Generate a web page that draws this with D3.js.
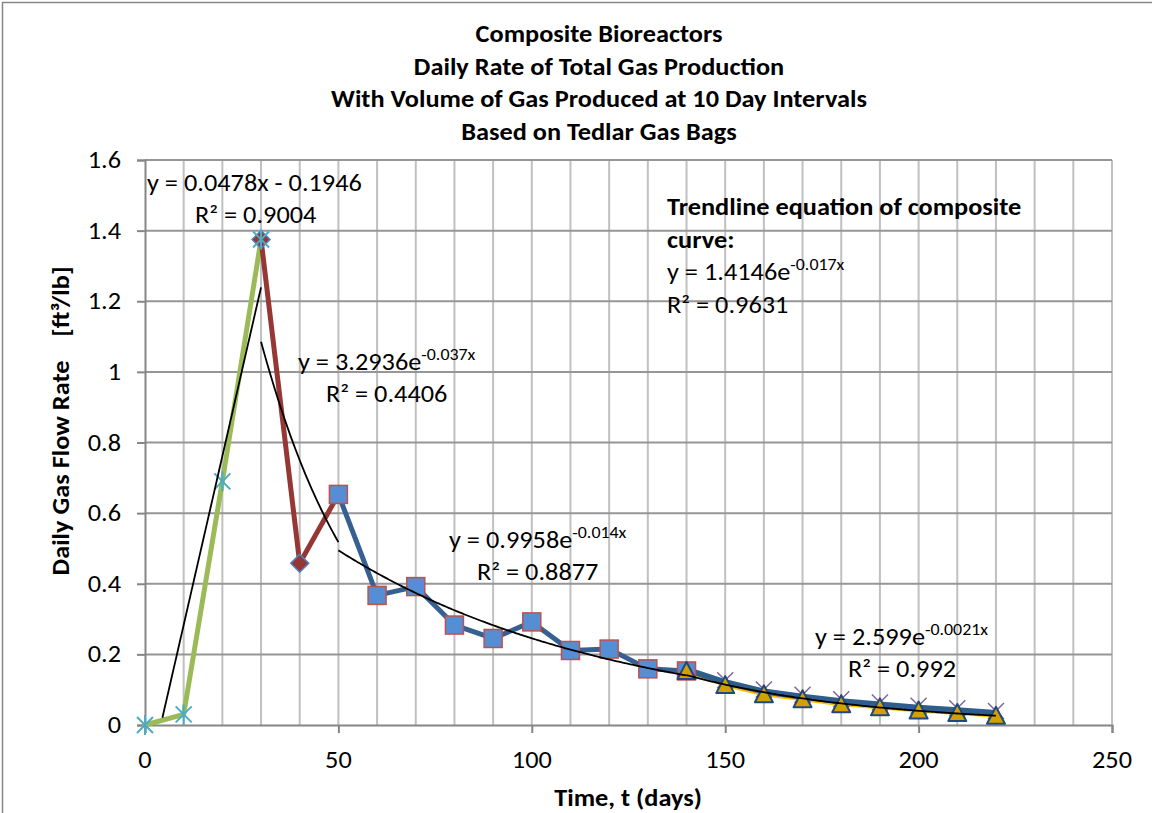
<!DOCTYPE html>
<html>
<head>
<meta charset="utf-8">
<script src="https://cdn.jsdelivr.net/npm/d3@7"></script>
<style>
  body { margin: 0; background: #fff; }
  text { font-family: Carlito, Calibri, Lato, "Open Sans", sans-serif; fill: #000; }
</style>
</head>
<body>
<svg id="chart" width="1152" height="813"></svg>
<script>
// values
var titleLines = ["Composite Bioreactors", "Daily Rate of Total Gas Production",
                  "With Volume of Gas Produced at 10 Day Intervals", "Based on Tedlar Gas Bags"];
var xTicks = [0, 50, 100, 150, 200, 250];
var yTicks = [0, 0.2, 0.4, 0.6, 0.8, 1, 1.2, 1.4, 1.6];

var riseDays = [0, 10, 20, 30];
var riseRate = [0, 0.03, 0.69, 1.375];

var dropDays = [30, 40, 50];
var dropRate = [1.375, 0.458, 0.653];

var decayDays = [50, 60, 70, 80, 90, 100, 110, 120, 130, 140];
var decayRate = [0.653, 0.367, 0.392, 0.283, 0.245, 0.292, 0.211, 0.215, 0.159, 0.153];

var tailDays = [140, 150, 160, 170, 180, 190, 200, 210, 220];
var tailRate = [0.153, 0.113, 0.087, 0.073, 0.059, 0.050, 0.041, 0.034, 0.026];
var tailXRate = [0.157, 0.121, 0.095, 0.080, 0.067, 0.058, 0.049, 0.042, 0.034];

// trendlines as shown on the chart
var linFit = { a: 0.0478, b: -0.1946, from: 0, to: 30 };
var exp1 = { a: 3.2936, k: -0.037, from: 30, to: 50 };
var exp2 = { a: 0.9958, k: -0.014, from: 50, to: 140 };

var FS = 23.5, SX = 1.12; // font size, horizontal stretch of the original

var svg = d3.select("#chart");
var x = d3.scaleLinear().domain([0, 250]).range([145, 1112]);
var y = d3.scaleLinear().domain([0, 1.6]).range([725, 160]);

// outer border
svg.append("rect").attr("x", 2.5).attr("y", 2.5).attr("width", 1200).attr("height", 900)
    .attr("fill", "none").attr("stroke", "#868686").attr("stroke-width", 1.5);

// grid
var g = svg.append("g");
g.selectAll(".vg").data(d3.range(10, 251, 10)).enter().append("line")
    .attr("x1", d => x(d)).attr("x2", d => x(d)).attr("y1", y(1.6)).attr("y2", y(0))
    .attr("stroke", "#c0c0c0").attr("stroke-width", 2);
g.selectAll(".hg").data(yTicks.slice(1)).enter().append("line")
    .attr("x1", x(0)).attr("x2", x(250)).attr("y1", d => y(d)).attr("y2", d => y(d))
    .attr("stroke", "#969696").attr("stroke-width", 2);

// axes (lines and ticks; labels drawn below)
var xAxis = svg.append("g").attr("transform", "translate(0," + y(0) + ")")
    .call(d3.axisBottom(x).tickValues(xTicks).tickSize(8).tickFormat(""));
var yAxis = svg.append("g").attr("transform", "translate(" + x(0) + ",0)")
    .call(d3.axisLeft(y).tickValues(yTicks).tickSize(8).tickFormat(""));
[xAxis, yAxis].forEach(function (ax) {
    ax.select(".domain").attr("stroke", "#868686").attr("stroke-width", 2);
    ax.selectAll(".tick line").attr("stroke", "#868686").attr("stroke-width", 2);
});

// text helper: stretched horizontally like the source picture
function txt(x0, y0, str, opt) {
    opt = opt || {};
    var grp = svg.append("g").attr("transform", "translate(" + x0 + "," + y0 + ")" +
        (opt.rotate ? " rotate(" + opt.rotate + ")" : "") + " scale(" + SX + ",1)");
    var t = grp.append("text").attr("font-size", opt.size || FS)
        .attr("text-anchor", opt.anchor || "start").style("white-space", "pre");
    if (opt.bold) t.attr("font-weight", "bold");
    if (str !== null) t.text(str);
    return t;
}

xTicks.forEach(d => txt(x(d), 768, String(d), { anchor: "middle" }));
yTicks.forEach(d => txt(121, y(d) + 8, d === 0 || d === 1 ? String(d) : d3.format(".1f")(d), { anchor: "end" }));

var line = d3.line().x(d => x(d[0])).y(d => y(d[1]));
function pairs(xs, ys) { return xs.map((d, i) => [d, ys[i]]); }

function drawLine(pts, color, w) {
    svg.append("path").datum(pts).attr("d", line).attr("fill", "none")
        .attr("stroke", color).attr("stroke-width", w).attr("stroke-linejoin", "round").attr("stroke-linecap", "round");
}

drawLine(pairs(tailDays, tailRate), "#ffc000", 4);
drawLine(pairs(tailDays, tailXRate), "#2e5d8e", 6);
drawLine(pairs(riseDays, riseRate), "#9bbb59", 5);
drawLine(pairs(dropDays, dropRate), "#953735", 5);
drawLine(pairs(decayDays, decayRate), "#376092", 5);

// x markers of tail series
svg.selectAll(".xm").data(pairs(tailDays, tailXRate).slice(1)).enter().append("path")
    .attr("d", d => { var cx = x(d[0]), cy = y(d[1]) - 2, s = 8;
        return "M" + (cx - s) + "," + (cy - s) + "L" + (cx + s) + "," + (cy + s) +
               "M" + (cx - s) + "," + (cy + s) + "L" + (cx + s) + "," + (cy - s); })
    .attr("stroke", "#8064a2").attr("stroke-width", 1.5).attr("fill", "none");

// diamond markers
svg.selectAll(".dm").data(pairs(dropDays, dropRate).slice(0, 2)).enter().append("path")
    .attr("d", d => { var cx = x(d[0]), cy = y(d[1]), s = 9;
        return "M" + cx + "," + (cy - s) + "L" + (cx + s) + "," + cy + "L" + cx + "," + (cy + s) + "L" + (cx - s) + "," + cy + "Z"; })
    .attr("fill", "#953735").attr("stroke", "#4f81bd").attr("stroke-width", 1.5);

// asterisk markers
svg.selectAll(".am").data(pairs(riseDays, riseRate)).enter().append("path")
    .attr("d", d => { var cx = x(d[0]), cy = y(d[1]), s = 10, t = 8;
        return "M" + cx + "," + (cy - s) + "L" + cx + "," + (cy + s) +
               "M" + (cx - t) + "," + (cy - t) + "L" + (cx + t) + "," + (cy + t) +
               "M" + (cx - t) + "," + (cy + t) + "L" + (cx + t) + "," + (cy - t); })
    .attr("stroke", "#4bacc6").attr("stroke-width", 2).attr("fill", "none");

// square markers
svg.selectAll(".sm").data(pairs(decayDays, decayRate)).enter().append("rect")
    .attr("x", d => x(d[0]) - 9).attr("y", d => y(d[1]) - 9).attr("width", 18).attr("height", 18)
    .attr("fill", "#558ed5").attr("stroke", "#c0504d").attr("stroke-width", 1.5);

// triangle markers
svg.selectAll(".tm").data(pairs(tailDays, tailRate)).enter().append("path")
    .attr("d", d => { var cx = x(d[0]), cy = y(d[1]);
        return "M" + cx + "," + (cy - 9) + "L" + (cx + 9) + "," + (cy + 8) + "L" + (cx - 9) + "," + (cy + 8) + "Z"; })
    .attr("fill", "#d4a000").attr("stroke", "#1f497d").attr("stroke-width", 2).attr("stroke-linejoin", "round");

// trendlines
function curve(f, from, to) {
    return d3.range(from, to + 0.01, 0.5).map(t => [t, f(t)]).filter(p => p[1] >= 0);
}
function drawTrend(pts) {
    svg.append("path").datum(pts).attr("d", line).attr("fill", "none")
        .attr("stroke", "#000").attr("stroke-width", 1.8);
}
drawTrend(curve(t => linFit.a * t + linFit.b, linFit.from, linFit.to));
drawTrend(curve(t => exp1.a * Math.exp(exp1.k * t), exp1.from, exp1.to));
drawTrend(curve(t => exp2.a * Math.exp(exp2.k * t), exp2.from, exp2.to));
// exponential least-squares fit on the tail series
var lx = tailDays, ly = tailRate.map(Math.log);
var mx = d3.mean(lx), my = d3.mean(ly);
var kTail = d3.sum(lx, (d, i) => (d - mx) * (ly[i] - my)) / d3.sum(lx, d => (d - mx) * (d - mx));
var aTail = Math.exp(my - kTail * mx);
drawTrend(curve(t => aTail * Math.exp(kTail * t), 140, 220));

// title
titleLines.forEach((d, i) => txt(599, 42 + i * 32.7, d, { anchor: "middle", bold: true }));

// axis titles
txt(628, 806, "Time, t (days)", { anchor: "middle", bold: true });
txt(69, 421, "Daily Gas Flow Rate    [ft³/lb]", { anchor: "middle", bold: true, rotate: -90 });

// equation labels
function eqn(x0, y0, base, exp, bold) {
    var t = txt(x0, y0, null, { bold: bold });
    t.append("tspan").text(base);
    if (exp) t.append("tspan").attr("dy", -10).attr("font-size", 16).text(exp);
    return t;
}
eqn(147, 191, "y = 0.0478x - 0.1946");
eqn(195, 223, "R² = 0.9004");
eqn(298, 370, "y = 3.2936e", "-0.037x");
eqn(326, 402, "R² = 0.4406");
eqn(449, 548, "y = 0.9958e", "-0.014x");
eqn(477, 580, "R² = 0.8877");
eqn(815, 645, "y = 2.599e", "-0.0021x");
eqn(848, 677, "R² = 0.992");

eqn(667, 215, "Trendline equation of composite", null, true);
eqn(667, 248, "curve:", null, true);
eqn(667, 280, "y = 1.4146e", "-0.017x");
eqn(667, 313, "R² = 0.9631");
</script>
</body>
</html>
